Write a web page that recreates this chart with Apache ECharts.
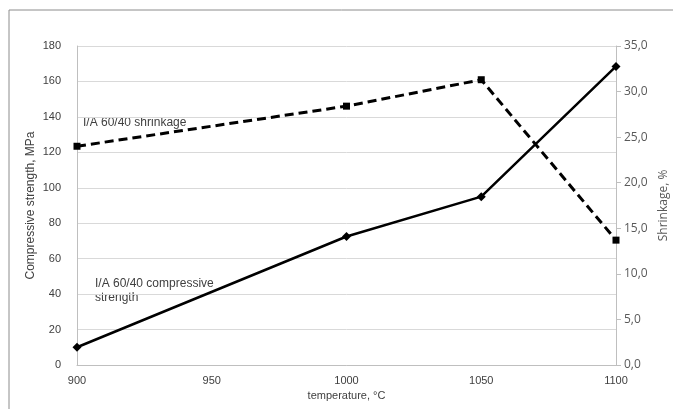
<!DOCTYPE html>
<html>
<head>
<meta charset="utf-8">
<script src="https://cdn.jsdelivr.net/npm/echarts@6/dist/echarts.min.js"></script>
<style>html,body{margin:0;padding:0;background:#fff}#c{width:673px;height:409px}</style>
</head>
<body>
<div id="c"></div>
<script>
const temperatures = [900, 1000, 1050, 1100];
const compressiveStrength = [10, 72.5, 95, 168.5];
const shrinkage = [24.0, 28.4, 31.3, 13.7];
const xTicks = [900, 950, 1000, 1050, 1100];
const leftTicks = [0, 20, 40, 60, 80, 100, 120, 140, 160, 180];
const rightTicks = [0, 5, 10, 15, 20, 25, 30, 35];

const chart = echarts.init(document.getElementById('c'), null, {renderer: 'canvas'});
const txt = '#404040';
chart.setOption({
  animation: false,
  backgroundColor: '#fff',
  grid: {left: 77, right: 57, top: 46, bottom: 44, containLabel: false, outerBoundsMode: 'none'},
  xAxis: {
    type: 'value', min: xTicks[0], max: xTicks[xTicks.length - 1], interval: 50,
    name: 'temperature, °C', nameLocation: 'middle', nameGap: 25, nameMoveOverlap: false,
    nameTextStyle: {color: txt, fontFamily: 'Liberation Sans', fontSize: 11},
    axisLine: {lineStyle: {color: '#bfbfbf', width: 1}},
    axisTick: {show: false},
    splitLine: {show: false},
    axisLabel: {color: txt, fontFamily: 'Liberation Sans', fontSize: 11, margin: 10,
      formatter: v => String(v)}
  },
  yAxis: [{
    type: 'value', min: leftTicks[0], max: leftTicks[leftTicks.length - 1], interval: 20,
    position: 'left',
    name: 'Compressive strength, MPa', nameLocation: 'middle', nameGap: 40, nameRotate: 90,
    nameMoveOverlap: false,
    nameTextStyle: {color: txt, fontFamily: 'Liberation Sans', fontSize: 12},
    axisLine: {show: true, lineStyle: {color: '#bfbfbf'}},
    axisTick: {show: false},
    splitLine: {lineStyle: {color: '#d9d9d9', width: 1}},
    axisLabel: {color: txt, fontFamily: 'Liberation Sans', fontSize: 11, margin: 16,
      formatter: v => String(v)}
  }, {
    type: 'value', min: rightTicks[0], max: rightTicks[rightTicks.length - 1], interval: 5,
    position: 'right',
    name: 'Shrinkage, %', nameLocation: 'middle', nameGap: 42, nameRotate: 90,
    nameMoveOverlap: false,
    nameTextStyle: {color: '#595959', fontFamily: 'Open Sans', fontSize: 12},
    axisLine: {show: true, lineStyle: {color: '#bfbfbf'}},
    axisTick: {show: true, length: 5, inside: false, lineStyle: {color: '#bfbfbf'}},
    splitLine: {show: false},
    axisLabel: {color: '#595959', fontFamily: 'Open Sans', fontSize: 12, margin: 8,
      formatter: v => v.toFixed(1).replace('.', ',')}
  }],
  series: [{
    type: 'line', yAxisIndex: 0,
    data: temperatures.map((t, i) => [t, compressiveStrength[i]]),
    symbol: 'diamond', symbolSize: 9,
    lineStyle: {color: '#000', width: 2.5},
    itemStyle: {color: '#000'}
  }, {
    type: 'line', yAxisIndex: 1,
    data: temperatures.map((t, i) => [t, shrinkage[i]]),
    symbol: 'rect', symbolSize: 7,
    lineStyle: {color: '#000', width: 3, type: [9, 5]},
    itemStyle: {color: '#000'}
  }],
  graphic: [
    {type: 'rect', shape: {x: 9, y: 10, width: 700, height: 450}, style: {fill: 'none', stroke: '#8c8c8c', lineWidth: 1}, z: -1},
    {type: 'text', left: 83, top: 117, style: {text: 'I/A 60/40 shrinkage', fill: txt, font: '12px "Liberation Sans"'}},
    {type: 'text', left: 95, top: 277, style: {text: 'I/A 60/40 compressive\nstrength', fill: txt, font: '12px "Liberation Sans"', lineHeight: 14}}
  ]
});
</script>
</body>
</html>
